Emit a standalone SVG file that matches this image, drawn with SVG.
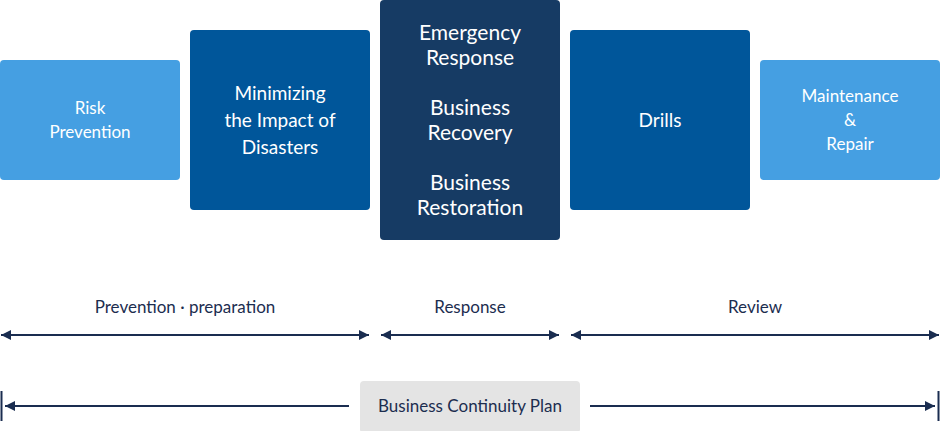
<svg xmlns="http://www.w3.org/2000/svg" width="940" height="431" viewBox="0 0 940 431">
<style>
.light{fill:#459fe2}
.mid{fill:#00569a}
.dark{fill:#163b64}
.bt{font-family:"Lato","Noto Sans",sans-serif;fill:#ffffff;text-anchor:middle}
.lab{font-family:"Lato","Noto Sans",sans-serif;fill:#1c2d4f;text-anchor:middle;font-size:17px}
.ln{stroke:#1a2d50;stroke-width:2;fill:none}
</style>
<defs>
<marker id="ah" viewBox="0 0 10 10" refX="10" refY="5" markerWidth="10" markerHeight="10" markerUnits="userSpaceOnUse" orient="auto-start-reverse">
<path d="M0,0 L10,5 L0,10 Z" fill="#1a2d50"/>
</marker>
</defs>
<g id="risk">
<rect class="light" x="0" y="60" width="180" height="120" rx="4"/>
<text class="bt" font-size="17" x="90" y="114">Risk</text>
<text class="bt" font-size="17" x="90" y="138">Prevention</text>
</g>
<g id="minimize">
<rect class="mid" x="190" y="30" width="180" height="180" rx="4"/>
<text class="bt" font-size="19" x="280" y="100">Minimizing</text>
<text class="bt" font-size="19" x="280" y="127">the Impact of</text>
<text class="bt" font-size="19" x="280" y="154">Disasters</text>
</g>
<g id="response">
<rect class="dark" x="380" y="0" width="180" height="240" rx="4"/>
<text class="bt" font-size="21" x="470" y="40">Emergency</text>
<text class="bt" font-size="21" x="470" y="65">Response</text>
<text class="bt" font-size="21" x="470" y="115">Business</text>
<text class="bt" font-size="21" x="470" y="140">Recovery</text>
<text class="bt" font-size="21" x="470" y="190">Business</text>
<text class="bt" font-size="21" x="470" y="215">Restoration</text>
</g>
<g id="drills">
<rect class="mid" x="570" y="30" width="180" height="180" rx="4"/>
<text class="bt" font-size="19" x="660" y="127">Drills</text>
</g>
<g id="maintenance">
<rect class="light" x="760" y="60" width="180" height="120" rx="4"/>
<text class="bt" font-size="17" x="850" y="102">Maintenance</text>
<text class="bt" font-size="17" x="850" y="126">&amp;</text>
<text class="bt" font-size="17" x="850" y="150">Repair</text>
</g>
<g id="bcp">
<rect x="360" y="381" width="220" height="52" rx="4" fill="#e4e4e4"/>
<text class="lab" x="470" y="412">Business Continuity Plan</text>
</g>
<g id="labels">
<text class="lab" x="185" y="313">Prevention · preparation</text>
<text class="lab" x="470" y="313">Response</text>
<text class="lab" x="755" y="313">Review</text>
</g>
<g id="connectors">
<line class="ln" x1="1" y1="335" x2="369" y2="335" marker-start="url(#ah)" marker-end="url(#ah)"/>
<line class="ln" x1="381" y1="335" x2="559" y2="335" marker-start="url(#ah)" marker-end="url(#ah)"/>
<line class="ln" x1="571" y1="335" x2="939" y2="335" marker-start="url(#ah)" marker-end="url(#ah)"/>
<line class="ln" x1="349" y1="406" x2="5" y2="406" marker-end="url(#ah)"/>
<line class="ln" x1="590" y1="406" x2="935" y2="406" marker-end="url(#ah)"/>
<line class="ln" x1="1.5" y1="391" x2="1.5" y2="421"/>
<line class="ln" x1="938.5" y1="391" x2="938.5" y2="421"/>
</g>
</svg>
